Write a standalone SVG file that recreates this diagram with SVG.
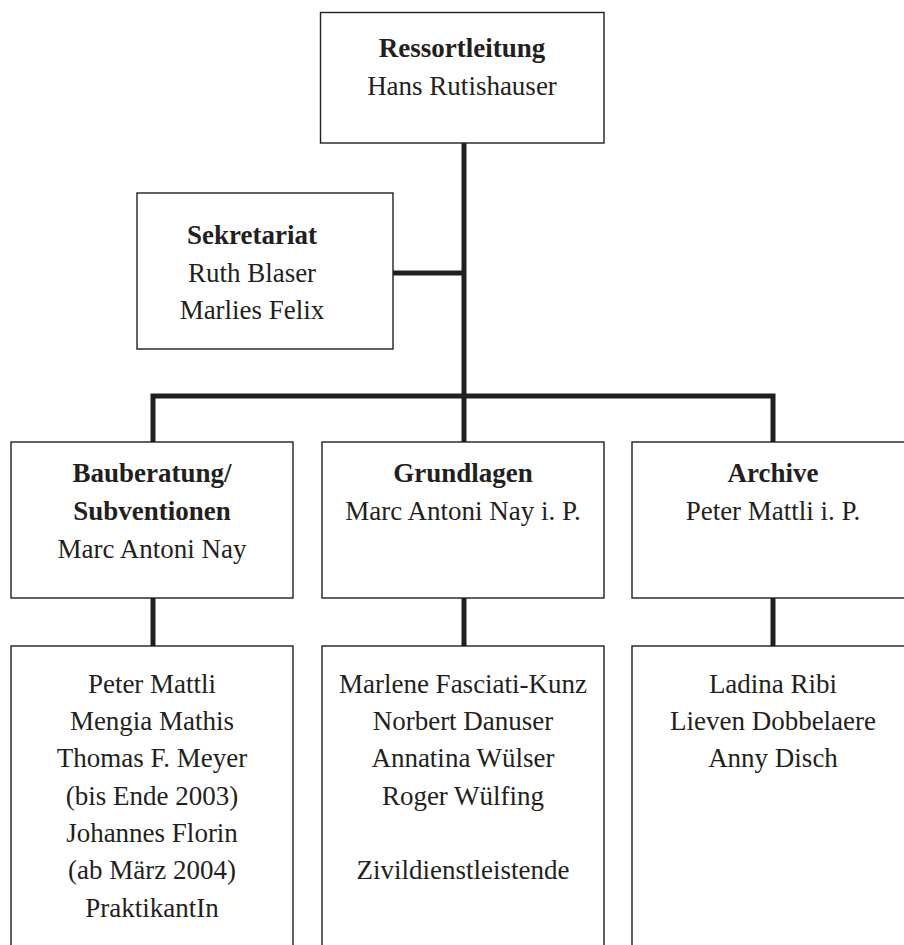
<svg xmlns="http://www.w3.org/2000/svg" width="904" height="945" viewBox="0 0 904 945">
<style>
.box{fill:#ffffff;stroke:#231f20;stroke-width:1.4}
.conn{stroke:#231f20;stroke-width:5;fill:none}
text{font-family:"Liberation Serif","Times New Roman",serif;font-size:27px;fill:#231f20;text-anchor:middle}
.b{font-weight:bold}
</style>
<rect width="904" height="945" fill="#ffffff"/>
<g id="connectors">
<line class="conn" x1="464" y1="143" x2="464" y2="398"/>
<line class="conn" x1="393" y1="273" x2="464" y2="273"/>
<polyline class="conn" points="153,442 153,396 773,396 773,442" stroke-linejoin="miter"/>
<line class="conn" x1="464" y1="396" x2="464" y2="442"/>
<line class="conn" x1="153" y1="598" x2="153" y2="646"/>
<line class="conn" x1="464" y1="598" x2="464" y2="646"/>
<line class="conn" x1="773" y1="598" x2="773" y2="646"/>
</g>
<g id="ressortleitung">
<rect class="box" x="320.5" y="12.5" width="283.5" height="130.5"/>
<text class="b" x="462" y="57">Ressortleitung</text>
<text x="462" y="95">Hans Rutishauser</text>
</g>
<g id="sekretariat">
<rect class="box" x="137" y="193" width="256" height="156"/>
<text class="b" x="252" y="244">Sekretariat</text>
<text x="252" y="282">Ruth Blaser</text>
<text x="252" y="319">Marlies Felix</text>
</g>
<g id="bauberatung">
<rect class="box" x="11" y="442" width="282" height="156"/>
<text class="b" x="152" y="482">Bauberatung/</text>
<text class="b" x="152" y="520">Subventionen</text>
<text x="152" y="558">Marc Antoni Nay</text>
</g>
<g id="grundlagen">
<rect class="box" x="322" y="442" width="282" height="156"/>
<text class="b" x="463" y="482">Grundlagen</text>
<text x="463" y="520">Marc Antoni Nay i. P.</text>
</g>
<g id="archive">
<rect class="box" x="632" y="442" width="282" height="156"/>
<text class="b" x="773" y="482">Archive</text>
<text x="773" y="520">Peter Mattli i. P.</text>
</g>
<g id="team-bauberatung">
<rect class="box" x="11" y="646" width="282" height="320"/>
<text x="152" y="693">Peter Mattli</text>
<text x="152" y="730">Mengia Mathis</text>
<text x="152" y="767">Thomas F. Meyer</text>
<text x="152" y="805">(bis Ende 2003)</text>
<text x="152" y="842">Johannes Florin</text>
<text x="152" y="879">(ab März 2004)</text>
<text x="152" y="917">PraktikantIn</text>
</g>
<g id="team-grundlagen">
<rect class="box" x="322" y="646" width="282" height="320"/>
<text x="463" y="693">Marlene Fasciati-Kunz</text>
<text x="463" y="730">Norbert Danuser</text>
<text x="463" y="767">Annatina Wülser</text>
<text x="463" y="805">Roger Wülfing</text>
<text x="463" y="879">Zivildienstleistende</text>
</g>
<g id="team-archive">
<rect class="box" x="632" y="646" width="282" height="320"/>
<text x="773" y="693">Ladina Ribi</text>
<text x="773" y="730">Lieven Dobbelaere</text>
<text x="773" y="767">Anny Disch</text>
</g>
</svg>
